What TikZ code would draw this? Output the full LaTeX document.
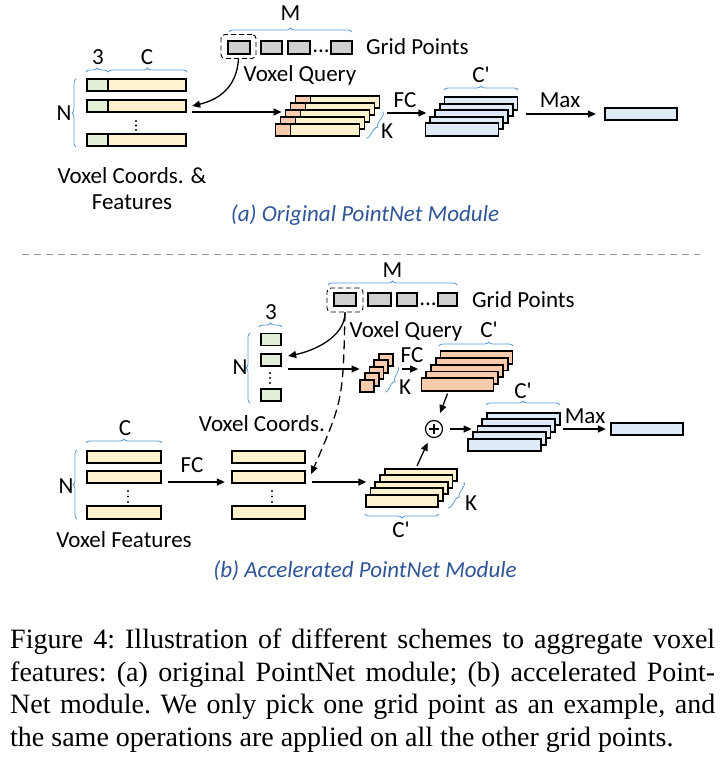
\documentclass[tikz,border=0pt]{standalone}
\usepackage{fontspec}
\setmainfont{Carlito}
\newfontfamily\captionfont{Liberation Serif}
\usetikzlibrary{
    arrows.meta,
    positioning,
    calc,
    decorations.pathreplacing
}
\definecolor{featyellow}{HTML}{FFF2CC}
\definecolor{coordgreen}{HTML}{E2F0D9}
\definecolor{grporange}{HTML}{F8CBAD}
\definecolor{outblue}{HTML}{DEEBF7}
\definecolor{gridgray}{HTML}{D0D0D0}
\definecolor{bracecol}{HTML}{5B9BD5}
\definecolor{titlecol}{HTML}{2F5597}
\newcommand{\cprime}{C\textquotesingle}
\tikzstyle{bar} = [
    rectangle,
    draw=black,
    line width=1.8pt,
    inner sep=0pt,
    minimum height=12.5pt
]
\tikzstyle{querybox} = [
    rectangle,
    rounded corners=4pt,
    draw=black,
    dash pattern=on 5pt off 3pt,
    line width=0.9pt,
    inner sep=0pt,
    minimum width=35pt,
    minimum height=24pt
]
\tikzstyle{arrow} = [
    -{Triangle[length=8pt,width=7pt]},
    line width=1.3pt
]
\tikzstyle{brc} = [
    decorate,
    decoration={brace, amplitude=4pt},
    draw=bracecol,
    line width=0.8pt
]
\tikzstyle{lbl} = [
    inner sep=0pt,
    font=\fontsize{23}{26}\selectfont
]
\tikzstyle{title} = [
    inner sep=0pt,
    text=titlecol,
    font=\fontsize{23}{26}\selectfont\itshape
]

\begin{document}
\begin{tikzpicture}[x=1pt, y=-1pt]
    \useasboundingbox (0,0) rectangle (725,762);

    % (a) grid points
    \node[bar, fill=gridgray, minimum width=22pt] (ga1) at (239,47.5) {};
    \node[bar, fill=gridgray, minimum width=21.5pt] (ga2) at (271.5,47.5) {};
    \node[bar, fill=gridgray, minimum width=22pt] (ga3) at (299,47.5) {};
    \node[lbl, anchor=base] (gadots) at (321,53) {...};
    \node[bar, fill=gridgray, minimum width=21.5pt] (ga4) at (341.5,47.5) {};
    \node[querybox] (qa) at (238.5,46.5) {};
    \node[lbl, anchor=west] (gpa) at (366,47) {Grid Points};
    \draw[brc] (229,32) -- (352,32);
    \node[lbl] (ma) at (290.5,13) {M};
    \node[lbl] (vqa) at (300,75) {Voxel Query};

    % (a) voxel coords & features
    \foreach \r/\y in {1/85,2/106,3/140} {
        \node[bar, fill=featyellow, minimum width=99.5pt] (fa\r) at (136.5,\y) {};
        \node[bar, fill=coordgreen, minimum width=21pt, anchor=west] (ca\r) at (fa\r.west) {};
    }
    \foreach \d in {0,1,2}
        \fill (136,{121+4.5*\d}) circle (1.1pt);
    \draw[brc] (86,72) -- (108,72);
    \draw[brc] (108,72) -- (187,72);
    \node[lbl] (na3) at (98,57) {3};
    \node[lbl] (nac) at (147,57) {C};
    \draw[brc] (76,147) -- (76,79);
    \node[lbl] (nan) at (64,113) {N};
    \node[lbl, align=center] (vca) at (132,189) {Voxel Coords. \&\\Features};

    % (a) grouped stack
    \foreach \i in {4,3,...,0} {
        \node[bar, fill=featyellow, minimum width=84pt] (ka\i) at ({317.5+5*\i},{130-7*\i}) {};
        \node[bar, fill=grporange, minimum width=15pt, anchor=west] (koa\i) at (ka\i.west) {};
    }
    \draw[brc] (383,112) -- (366,138);
    \node[lbl] (nak) at (387,131) {K};

    % (a) fc stack and output
    \foreach \i in {4,3,...,0}
        \node[bar, fill=outblue, minimum width=73pt] (ba\i) at ({462+4.75*\i},{129.5-6.5*\i}) {};
    \draw[brc] (444,90) -- (518,90);
    \node[lbl] (nacp) at (481,75) {\cprime};
    \node[bar, fill=outblue, minimum width=72.5pt] (oa) at (641,114) {};

    % (a) arrows
    \draw[arrow] (qa.south) .. controls +(-2,30) and +(25,-6) .. ($(fa2.east)+(5,0)$);
    \draw[arrow] ($(fa2.east)+(5,6)$) -- ($(ka2.west)+(-3,-4)$);
    \draw[arrow] ($(ka2.east)+(17,-3)$) -- ($(ba1.west)+(-3,-10)$);
    \node[lbl] (fca) at (405,100) {FC};
    \draw[arrow] ($(ba3.east)+(12,4)$) -- ($(oa.west)+(-8,0)$);
    \node[lbl] (maxa) at (560,100) {Max};

    \node[title] (tita) at (365,215) {(a) Original PointNet Module};

    % separator
    \draw[draw=gray!80, line width=0.8pt, dash pattern=on 7pt off 5pt] (22,254) -- (700,254);

    % (b) grid points
    \node[bar, fill=gridgray, minimum width=22.5pt] (gb1) at (345,299.5) {};
    \node[bar, fill=gridgray, minimum width=23.5pt] (gb2) at (379.5,299.5) {};
    \node[bar, fill=gridgray, minimum width=20.5pt] (gb3) at (407,299.5) {};
    \node[lbl, anchor=base] (gbdots) at (428,305) {...};
    \node[bar, fill=gridgray, minimum width=19.5pt] (gb4) at (447.5,299.5) {};
    \node[querybox, minimum width=36pt] (qb) at (345,300) {};
    \node[lbl, anchor=west] (gpb) at (472,300) {Grid Points};
    \draw[brc] (328,285) -- (457,285);
    \node[lbl] (mb) at (392.5,270) {M};
    \node[lbl] (vqb) at (406,331) {Voxel Query};

    % (b) voxel coords
    \foreach \r/\y in {1/339.5,2/360,3/395}
        \node[bar, fill=coordgreen, minimum width=20.5pt, minimum height=12pt] (cb\r) at (271,\y) {};
    \foreach \d in {0,1,2}
        \fill (270,{373+5*\d}) circle (1.1pt);
    \draw[brc] (259,327) -- (282,327);
    \node[lbl] (nb3) at (271,312) {3};
    \draw[brc] (250,403) -- (250,333);
    \node[lbl] (nbn) at (240,367) {N};
    \node[lbl] (vcb) at (262,424) {Voxel Coords.};

    % (b) voxel features
    \foreach \r/\y in {1/457,2/477,3/512.5} {
        \node[bar, fill=featyellow, minimum width=74.5pt] (vf\r) at (124,\y) {};
        \node[bar, fill=featyellow, minimum width=73.5pt] (mf\r) at (268.5,\y) {};
    }
    \foreach \d in {0,1,2} {
        \fill (128,{491+5.5*\d}) circle (1.1pt);
        \fill (272,{491+5.5*\d}) circle (1.1pt);
    }
    \draw[brc] (86,443) -- (162,443);
    \node[lbl] (nbc) at (125,428) {C};
    \draw[brc] (77,519) -- (77,450);
    \node[lbl] (nbn2) at (66,486) {N};
    \node[lbl] (vfb) at (124,540) {Voxel Features};

    % (b) small grouped coords
    \foreach \i in {4,3,...,0}
        \node[bar, fill=grporange, minimum width=14pt] (so\i) at ({367+4.75*\i},{386-6.5*\i}) {};
    \draw[brc] (398,367) -- (385,392);
    \node[lbl] (nbk) at (405,387) {K};

    % (b) fc on coords
    \foreach \i in {4,3,...,0}
        \node[bar, fill=grporange, minimum width=72pt] (bo\i) at ({457.5+4.75*\i},{384.5-6.75*\i}) {};
    \draw[brc, decoration={brace, amplitude=4pt, aspect=0.67}] (439,346) -- (513,346);
    \node[lbl] (nbcp1) at (489,330) {\cprime};

    % (b) grouped features
    \foreach \i in {4,3,...,0}
        \node[bar, fill=featyellow, minimum width=72.5pt] (ys\i) at ({402+4.75*\i},{501-6.5*\i}) {};
    \draw[brc] (464,482) -- (448,508);
    \node[lbl] (nbk2) at (471,503) {K};
    \draw[brc] (439,514) -- (365,514);
    \node[lbl] (nbcp2) at (401,530) {\cprime};

    % (b) sum and output
    \node[circle, draw=black, line width=1.2pt, minimum size=17pt, inner sep=0pt] (pl) at (434,429) {};
    \draw[line width=1.1pt] ($(pl.center)+(-5,0)$) -- ($(pl.center)+(5,0)$);
    \draw[line width=1.1pt] ($(pl.center)+(0,-5)$) -- ($(pl.center)+(0,5)$);
    \foreach \i in {4,3,...,0}
        \node[bar, fill=outblue, minimum width=73pt] (bl\i) at ({504.5+4.75*\i},{445-6.5*\i}) {};
    \draw[brc] (486,405) -- (560,405);
    \node[lbl] (nbcp3) at (523,391) {\cprime};
    \node[bar, fill=outblue, minimum width=72.5pt] (ob) at (647,429) {};

    % (b) arrows
    \draw[arrow] (qb.south) .. controls +(0,25) and +(25,-5) .. ($(cb2.east)+(6,-4)$);
    \draw[arrow, dash pattern=on 9pt off 5pt] (qb.south) .. controls (343,400) .. ($(mf2.east)+(5,-3)$);
    \draw[arrow] ($(cb2.east)+(6,9)$) -- ($(so2.west)+(-9,-4)$);
    \draw[arrow] ($(so2.east)+(18,-4)$) -- ($(bo2.west)+(-12,-2)$);
    \node[lbl] (fcb1) at (412,355) {FC};
    \draw[arrow] ($(vf2.east)+(6,5)$) -- ($(mf2.west)+(-6,5)$);
    \node[lbl] (fcb2) at (192,465) {FC};
    \draw[arrow] ($(mf2.east)+(6,5)$) -- ($(ys2.west)+(-8,-6)$);
    \draw[arrow, shorten >=8pt] ($(bo0.south)+(-10,2)$) -- (pl);
    \draw[arrow, shorten >=6pt] ($(ys4.north)+(-4,-2)$) -- (pl);
    \draw[arrow, shorten <=7pt] (pl) -- ($(bl2.west)+(-5,-3)$);
    \draw[arrow] ($(bl3.east)+(7,3.5)$) -- ($(ob.west)+(-4,0)$);
    \node[lbl] (maxb) at (585,416) {Max};

    \node[title] (titb) at (365,571) {(b) Accelerated PointNet Module};

    % caption
    \node[anchor=north west, inner sep=0pt, text width=705pt, align=justify,
          font=\captionfont\fontsize{28}{32.5}\selectfont] (caption) at (10,629)
        {\frenchspacing\parfillskip=0pt Figure 4: Illustration of different schemes to aggregate voxel\linebreak
         features: (a) original PointNet module; (b) accelerated Point-\linebreak
         Net module. We only pick one grid point as an example, and\linebreak
         the same operations are applied on all the other grid points.};
\end{tikzpicture}
\end{document}
